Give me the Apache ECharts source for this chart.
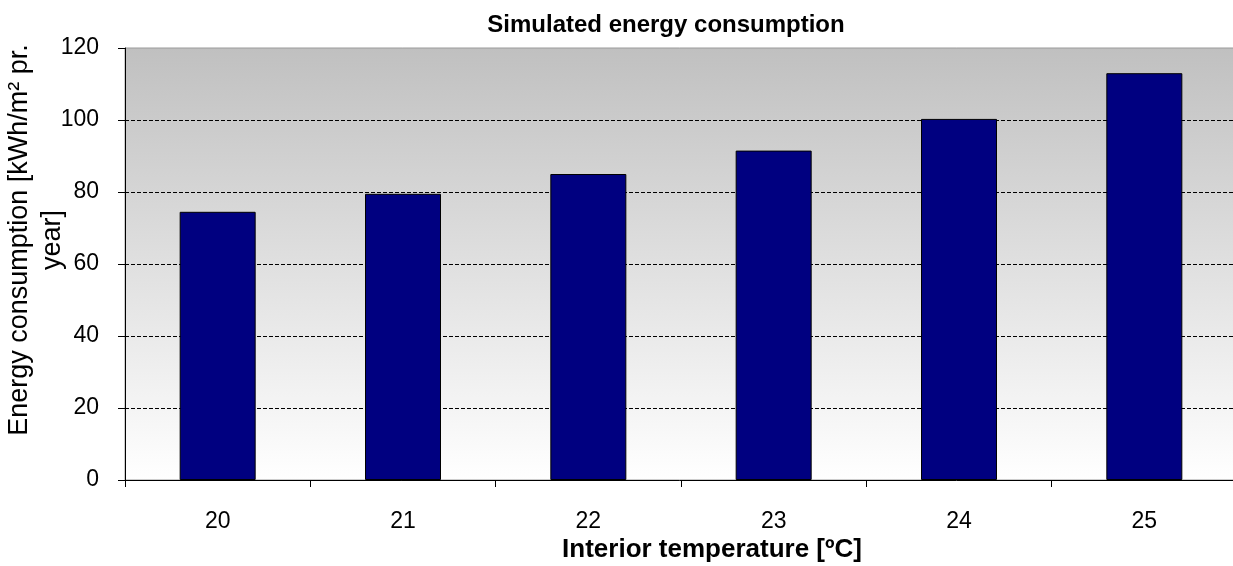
<!DOCTYPE html>
<html>
<head>
<meta charset="utf-8">
<script src="https://cdn.jsdelivr.net/npm/echarts@6/dist/echarts.min.js"></script>
<style>
  html, body { margin: 0; padding: 0; background: #ffffff; }
  #main { width: 1233px; height: 566px; }
</style>
</head>
<body>
<div id="main"></div>
<script>
// data
var temperatures = ['20', '21', '22', '23', '24', '25'];
var consumption = [74.5, 79.5, 85, 91.5, 100.3, 113];
var yTicks = { min: 0, max: 120, interval: 20 };

var myChart = echarts.init(document.getElementById('main'));

var option = {
    backgroundColor: '#ffffff',
    animation: false,
    title: {
        text: 'Simulated energy consumption',
        left: 661,
        top: 8,
        textAlign: 'center',
        textStyle: {
            fontFamily: 'Liberation Sans, Arial, sans-serif',
            fontSize: 24,
            fontWeight: 'bold',
            color: '#000000'
        }
    },
    grid: {
        left: 125,
        right: -4,
        top: 48,
        bottom: 86,
        containLabel: false,
        outerBoundsMode: 'none',
        show: true,
        borderWidth: 1,
        borderColor: '#9a9a9a',
        backgroundColor: new echarts.graphic.LinearGradient(0, 0, 0, 1, [
            { offset: 0, color: '#c0c0c0' },
            { offset: 1, color: '#ffffff' }
        ])
    },
    xAxis: {
        type: 'category',
        data: temperatures,
        name: 'Interior temperature [ºC]',
        nameLocation: 'middle',
        nameGap: 57,
        nameMoveOverlap: false,
        nameTextStyle: {
            fontFamily: 'Liberation Sans, Arial, sans-serif',
            fontSize: 26,
            fontWeight: 'bold',
            color: '#000000',
            padding: [0, 0, 0, 62]
        },
        axisLine: { lineStyle: { color: '#000000', width: 1 } },
        axisTick: { show: true, length: 7, lineStyle: { color: '#000000' } },
        axisLabel: {
            margin: 30,
            fontFamily: 'Liberation Sans, Arial, sans-serif',
            fontSize: 23,
            color: '#000000'
        }
    },
    yAxis: {
        type: 'value',
        min: yTicks.min,
        max: yTicks.max,
        interval: yTicks.interval,
        name: 'Energy consumption [kWh/m² pr.\nyear]',
        nameLocation: 'middle',
        nameGap: 56,
        nameMoveOverlap: false,
        nameTextStyle: {
            fontFamily: 'Liberation Sans, Arial, sans-serif',
            fontSize: 27,
            lineHeight: 33,
            color: '#000000',
            align: 'center',
            padding: [0, 0, 0, 48]
        },
        axisLine: { show: true, lineStyle: { color: '#000000', width: 1 } },
        axisTick: { show: true, length: 7, lineStyle: { color: '#000000' } },
        axisLabel: {
            margin: 26,
            fontFamily: 'Liberation Sans, Arial, sans-serif',
            fontSize: 23,
            color: '#000000'
        },
        splitLine: {
            show: true,
            showMinLine: false,
            showMaxLine: false,
            lineStyle: { color: '#000000', type: [4, 2], width: 1 }
        }
    },
    series: [
        {
            name: 'Energy consumption',
            type: 'bar',
            data: consumption,
            barWidth: 76,
            itemStyle: {
                color: '#000080',
                borderColor: '#000000',
                borderWidth: 1
            }
        }
    ]
};

myChart.setOption(option);
</script>
</body>
</html>
